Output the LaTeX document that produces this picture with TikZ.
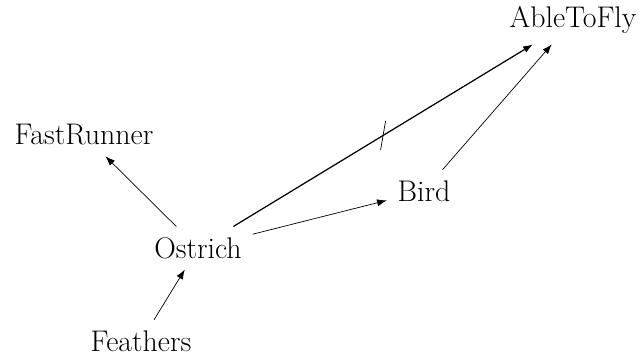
\documentclass[tikz,border=0pt]{standalone}
\usetikzlibrary{calc}
\usetikzlibrary{arrows.meta}

\begin{document}
\begin{tikzpicture}[x=.02cm, y=-.02cm,
  concept/.style={inner sep=.21cm, font=\fontsize{17}{20}\selectfont},
  link/.style={-{Latex[length=5.5pt, width=4pt]}}]
\useasboundingbox (0,0) rectangle (641,356);

\node[concept] (able) at (573,20) {AbleToFly};
\node[concept] (fast) at (84,135) {FastRunner};
\node[concept] (bird) at (424,191) {Bird};
\node[concept] (ostrich) at (198,248) {Ostrich};
\node[concept] (feathers) at (141,341) {Feathers};

\draw[link] (feathers) -- (ostrich);
\draw[link] (ostrich) -- (fast);
\draw[link] (ostrich) -- (bird);
\draw[link] (bird) -- (able);
\draw[link, line width=.7pt] (ostrich) -- coordinate[midway] (cut) (able);
\draw ($(cut)+(2.5,-14.5)$) -- ($(cut)+(-2.5,14.5)$);

\end{tikzpicture}
\end{document}
